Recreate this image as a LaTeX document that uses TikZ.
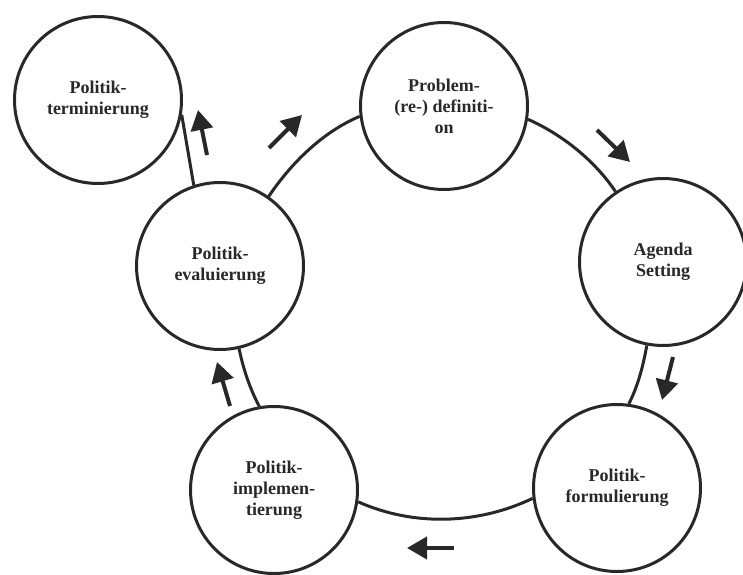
\documentclass[tikz,border=0pt]{standalone}
\usepackage{fontspec}
\setmainfont{Liberation Serif}
\usetikzlibrary{arrows.meta}
\definecolor{ink}{RGB}{40,40,40}
\begin{document}
\begin{tikzpicture}[x=1pt,y=1pt,
  stage/.style={circle, draw=ink, line width=3pt, minimum size=167pt, inner sep=0pt,
    fill=white, align=center, text=ink, font=\bfseries\fontsize{18}{21}\selectfont},
  link/.style={draw=ink, line width=3pt},
  flow/.style={draw=ink, line width=4pt, -{Triangle[length=20pt,width=22pt]}}]
\useasboundingbox (0,0) rectangle (743,574);
\fill[white] (0,0) rectangle (743,574);
% stages
\node[stage] (term)   at (98,474)  {Politik-\\terminierung};
\node[stage] (eval)   at (220,308) {Politik-\\evaluierung};
\node[stage] (prob)   at (444,468) {Problem-\\(re-) definiti-\\on};
\node[stage] (agenda) at (663,312) {Agenda\\Setting};
\node[stage] (form)   at (617,86)  {Politik-\\formulierung};
\node[stage] (impl)   at (274,84)  {Politik-\\implemen-\\tierung};
% connectors
\draw[link] (term.-10) -- (eval.108);
\draw[link] (eval.55.6) to[out=56,in=203,looseness=0.85] (prob.187.5);
\draw[link] (prob.-9.6) to[out=-24,in=124,looseness=0.85] (agenda.124.8);
\draw[link] (agenda.-101.3) to[out=-100,in=63,looseness=0.85] (form.82.6);
\draw[link] (form.187.5) to[out=-154.5,in=-24,looseness=0.89] (impl.-8.9);
\draw[link] (impl.100.2) to[out=118,in=281.6,looseness=0.85] (eval.-77.5);
% direction arrows
\coordinate (a1s) at (207,419); \coordinate (a1e) at (198,464);
\coordinate (a2s) at (269,426); \coordinate (a2e) at (302,459);
\coordinate (a3s) at (597,444); \coordinate (a3e) at (630,412);
\coordinate (a4s) at (673,217); \coordinate (a4e) at (662,174);
\coordinate (a5s) at (454,26);  \coordinate (a5e) at (407,26);
\coordinate (a6s) at (230,168); \coordinate (a6e) at (217,212);
\draw[flow] (a1s) -- (a1e);
\draw[flow] (a2s) -- (a2e);
\draw[flow] (a3s) -- (a3e);
\draw[flow] (a4s) -- (a4e);
\draw[flow] (a5s) -- (a5e);
\draw[flow] (a6s) -- (a6e);
\end{tikzpicture}
\end{document}
